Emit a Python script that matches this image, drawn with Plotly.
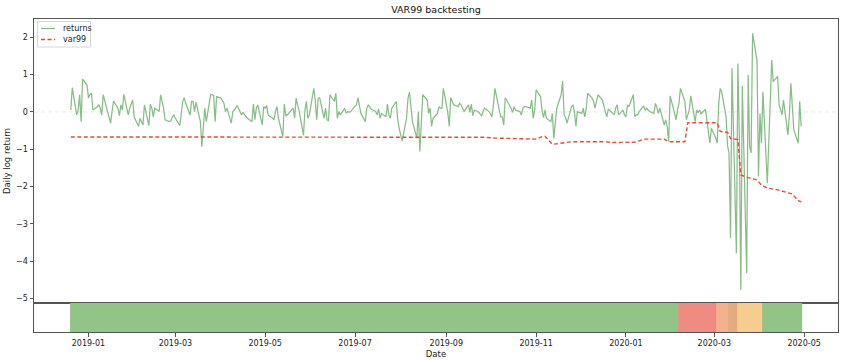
import numpy as np
import pandas as pd
import plotly.graph_objects as go

# ---------------- data ----------------
# daily log returns, one list per month (business days)
r_2018_12 = [0.05, 0.65, -0.08, 0.05, 0.46, -0.26, 0.88, 0.72]
r_2019_01 = [0.37, 0.47, 0.50, 0.05, 0.14, 0.19, 0.10, -0.08, 0.46, 0.01, -0.08, -0.30, 0.01, 0.29, 0.10, -0.10, 0.19, 0.05, 0.47, -0.08, 0.10, 0.21, 0.32]
r_2019_02 = [-0.13, -0.39, -0.17, -0.26, -0.35, 0.19, -0.37, 0.21, 0.10, -0.13, 0.10, 0.01, 0.46, 0.28, 0.10, -0.21, -0.26, -0.24, -0.13, -0.08]
r_2019_03 = [-0.17, -0.37, 0.01, 0.28, 0.38, 0.23, -0.08, 0.28, 0.28, 0.01, 0.26, -0.26, -0.93, -0.39, 0.10, -0.26, 0.47, 0.46, 0.44, -0.26, 0.41]
r_2019_04 = [0.37, 0.28, 0.23, 0.01, 0.10, -0.30, 0.01, 0.05, 0.10, 0.17, -0.08, -0.01, -0.08, -0.13, -0.17, -0.26, 0.21, -0.21, 0.10, 0.19, -0.35, 0.14]
r_2019_05 = [0.10, 0.17, -0.08, -0.17, -0.21, 0.01, 0.14, -0.17, -0.66, 0.21, -0.10, -0.08, -0.04, 0.10, -0.17, 0.37, 0.19, 0.05, -0.63, 0.05, 0.28, -0.17, -0.08]
r_2019_06 = [0.63, 0.32, -0.21, 0.37, 0.38, -0.17, 0.10, -0.21, -0.24, 0.46, 0.28, 0.50, -0.17, 0.01, -0.08, 0.10, -0.04, 0.01, -0.01, 0.01]
r_2019_07 = [0.14, 0.19, 0.38, 0.10, -0.04, -0.26, 0.10, 0.19, 0.14, 0.08, 0.01, -0.08, 0.08, -0.17, -0.04, -0.13, 0.21, -0.08, -0.17, 0.10, 0.28, -0.21, -0.44]
r_2019_08 = [-0.62, -0.78, -0.17, 0.37, 0.53, 0.10, -0.26, -0.71, 0.01, -1.06, -0.26, 0.46, 0.32, -0.04, 0.10, -0.39, -0.17, -0.04, 0.14, 0.10, 0.10, 0.63]
r_2019_09 = [-0.01, -0.39, 0.38, 0.28, 0.19, 0.14, 0.23, 0.19, 0.10, 0.01, 0.19, -0.01, 0.21, -0.10, 0.05, -0.01, -0.06, -0.10, 0.01, 0.10, 0.01]
r_2019_10 = [-0.08, -0.13, 0.19, 0.63, 0.05, -0.13, -0.13, -0.35, 0.38, 0.19, 0.10, -0.01, 0.14, 0.05, 0.01, -0.08, 0.10, 0.14, 0.14, 0.10, 0.32, -0.17, 0.05]
r_2019_11 = [0.59, 0.41, 0.05, -0.15, 0.05, -0.17, -0.26, -0.04, -0.71, -0.17, 0.10, 0.46, 0.83, -0.08, -0.15, -0.30, 0.14, 0.19, 0.01, -0.39, 0.01]
r_2019_12 = [-0.04, 0.10, -0.13, 0.08, 0.50, 0.37, 0.28, 0.10, 0.28, 0.46, 0.32, 0.12, 0.01, -0.13, 0.08, -0.04, -0.08, 0.10, 0.19, -0.08, 0.05, -0.08]
r_2020_01 = [-0.13, 0.19, 0.14, 0.46, -0.13, -0.08, -0.08, 0.01, 0.16, 0.04, 0.10, 0.05, 0.01, -0.04, 0.23, 0.12, -0.04, 0.10, -0.35, -0.21, -0.39, -0.79, 0.43]
r_2020_02 = [-0.04, -0.21, 0.05, 0.23, 0.63, 0.28, -0.21, -0.04, 0.05, 0.43, -0.26, 0.05, -0.02, 0.05, -0.05, 0.07, -0.21, -0.48, -0.84, -0.44]
r_2020_03 = [-0.70, -0.84, 0.23, 0.63, 0.54, -0.13, -0.91, -1.10, -3.38, 1.17, -3.79, 1.30, -0.66, -4.77, 0.70, -4.32, 0.99, -0.93, -1.10, 2.11, 1.39, -1.73]
r_2020_04 = [-0.04, -0.84, 0.54, -1.91, -0.75, 0.54, 1.39, 0.81, 0.95, 0.19, 0.01, -0.08, 0.32, -0.62, -0.04, 0.77, 0.14, -0.48, -0.84, 0.28, -0.39]

month_starts = ['2018-12-20', '2019-01-01', '2019-02-01', '2019-03-01', '2019-04-01', '2019-05-01',
                '2019-06-01', '2019-07-01', '2019-08-01', '2019-09-01', '2019-10-01', '2019-11-01',
                '2019-12-01', '2020-01-01', '2020-02-01', '2020-03-01', '2020-04-01']
returns_by_month = [r_2018_12, r_2019_01, r_2019_02, r_2019_03, r_2019_04, r_2019_05, r_2019_06,
                    r_2019_07, r_2019_08, r_2019_09, r_2019_10, r_2019_11, r_2019_12, r_2020_01,
                    r_2020_02, r_2020_03, r_2020_04]

# VaR 99 line: values at the dates where it changes
var_dates = ['2018-12-20', '2019-09-20', '2019-09-27', '2019-10-04', '2019-10-18', '2019-10-22',
             '2019-11-01', '2019-11-05', '2019-11-07', '2019-11-12', '2019-11-18', '2019-11-25',
             '2019-12-18', '2019-12-23', '2020-01-08', '2020-01-13', '2020-01-27', '2020-01-30',
             '2020-02-10', '2020-02-12', '2020-03-03', '2020-03-05', '2020-03-10', '2020-03-12',
             '2020-03-17', '2020-03-19', '2020-03-24', '2020-03-30', '2020-04-02', '2020-04-06',
             '2020-04-13', '2020-04-20', '2020-04-23', '2020-04-27', '2020-04-29']
var_values = [-0.67, -0.67, -0.68, -0.70, -0.71, -0.73,
              -0.73, -0.66, -0.65, -0.87, -0.84, -0.80,
              -0.80, -0.82, -0.81, -0.73, -0.73, -0.80,
              -0.80, -0.29, -0.29, -0.52, -0.55, -0.71,
              -0.74, -1.69, -1.76, -1.82, -1.96, -2.04,
              -2.09, -2.17, -2.20, -2.38, -2.41]

# backtest traffic-light zones (start date of each zone)
zone_starts = ['2018-12-20', '2020-02-06', '2020-03-03', '2020-03-11', '2020-03-17', '2020-04-03']
zone_levels = ['green', 'red', 'orange', 'amber', 'yellow', 'green']

series_names = ['returns', 'var99']

# ---------------- build ----------------
dates, returns = [], []
for start, vals in zip(month_starts, returns_by_month):
    dates.extend(pd.bdate_range(start, periods=len(vals)))
    returns.extend(vals)
dates = pd.DatetimeIndex(dates)

level_names = ['green', 'yellow', 'amber', 'orange', 'red']
level_colors = ['#93c487', '#f5cd8f', '#e4ab80', '#f5b08e', '#ef8b81']
zone_idx = np.searchsorted(pd.to_datetime(zone_starts).values, dates.values, side='right') - 1
codes = [level_names.index(zone_levels[i]) for i in zone_idx]
n = len(level_names)
colorscale = []
for k, c in enumerate(level_colors):
    colorscale.append([k / n, c])
    colorscale.append([(k + 1) / n, c])

FONT = 'DejaVu Sans'
AX = '#555555'
RET_COLOR = 'rgb(136,189,136)'
VAR_COLOR = 'rgb(224,78,58)'
VAR_DASH = '4px,2.5px'
x_range = ['2018-11-25', '2020-05-24']

fig = go.Figure()
fig.add_trace(go.Scatter(x=dates, y=returns, mode='lines', name=series_names[0],
                         line=dict(color=RET_COLOR, width=1.25), showlegend=False,
                         xaxis='x', yaxis='y'))
fig.add_trace(go.Scatter(x=pd.to_datetime(var_dates), y=var_values, mode='lines', name=series_names[1],
                         line=dict(color=VAR_COLOR, width=1.4, dash=VAR_DASH), showlegend=False,
                         xaxis='x', yaxis='y'))
fig.add_trace(go.Heatmap(x=dates, y=[0.5], z=[codes], zmin=-0.5, zmax=n - 0.5,
                         colorscale=colorscale, showscale=False, hoverinfo='skip',
                         xaxis='x2', yaxis='y2', showlegend=False))

# compact matplotlib-style legend (paper coordinates)
W, H = 804.0, 313.0
def px(x):
    return (x - 34) / W
def py(y):
    return (332 - y) / H

shapes = [
    dict(type='line', xref='x domain', x0=0, x1=1, yref='y', y0=0, y1=0,
         line=dict(color='rgba(170,200,170,0.35)', width=1, dash='4px,3px'), layer='below'),
    dict(type='rect', xref='paper', yref='paper', x0=px(37.5), x1=px(90.5), y0=py(47), y1=py(21.5),
         line=dict(color='#d6d6d6', width=1), fillcolor='rgba(255,255,255,0.85)', layer='above'),
    dict(type='line', xref='paper', yref='paper', x0=px(41), x1=px(55), y0=py(28.5), y1=py(28.5),
         line=dict(color=RET_COLOR, width=1.25), layer='above'),
    dict(type='line', xref='paper', yref='paper', x0=px(41), x1=px(55), y0=py(39.5), y1=py(39.5),
         line=dict(color=VAR_COLOR, width=1.4, dash=VAR_DASH), layer='above'),
]
annotations = [
    dict(text=series_names[0], xref='paper', yref='paper', x=px(60.5), y=py(28.5),
         xanchor='left', yanchor='middle', showarrow=False, font=dict(family=FONT, size=8, color='#222')),
    dict(text=series_names[1], xref='paper', yref='paper', x=px(60.5), y=py(39.5),
         xanchor='left', yanchor='middle', showarrow=False, font=dict(family=FONT, size=8, color='#222')),
]

strip = 29 / 313
fig.update_layout(
    width=852, height=360,
    margin=dict(l=34, r=14, t=19, b=28),
    paper_bgcolor='white', plot_bgcolor='white',
    font=dict(family=FONT, size=8, color='#222'),
    title=dict(text='VAR99 backtesting', x=0.5, xref='paper', xanchor='center',
               y=1 - 10 / 360, yref='container', yanchor='middle',
               font=dict(family=FONT, size=9.5, color='#111')),
    showlegend=False,
    xaxis=dict(domain=[0, 1], anchor='y', range=x_range, type='date', showticklabels=False,
               ticks='', showgrid=False, zeroline=False, showline=True, mirror=True,
               linecolor=AX, linewidth=1, automargin=False),
    xaxis2=dict(domain=[0, 1], anchor='y2', range=x_range, type='date', matches='x',
                tickformat='%Y-%m', dtick='M2', tick0='2019-01-01', ticks='outside',
                ticklen=3.5, tickcolor=AX, tickfont=dict(size=8, color='#222'),
                showgrid=False, zeroline=False, showline=True, mirror=True,
                linecolor=AX, linewidth=1, automargin=False,
                title=dict(text='Date', standoff=3, font=dict(size=8.5, color='#222'))),
    yaxis=dict(domain=[strip, 1], anchor='x', range=[-5.12, 2.49], dtick=1, tick0=0,
               ticks='outside', ticklen=3.5, tickcolor=AX, tickfont=dict(size=8, color='#222'),
               showgrid=False, zeroline=False, showline=True, mirror=True,
               linecolor=AX, linewidth=1, automargin=False,
               title=dict(text='Daily log return', standoff=4, font=dict(size=8.5, color='#222'))),
    yaxis2=dict(domain=[0, strip], anchor='x2', range=[0, 1], showticklabels=False, ticks='',
                showgrid=False, zeroline=False, showline=True, mirror=True,
                linecolor=AX, linewidth=1, automargin=False),
    shapes=shapes,
    annotations=annotations,
)

fig.write_html('out.html', config={'displayModeBar': False, 'responsive': False},
               post_script="document.body.style.margin='0';document.body.style.overflow='hidden';")
